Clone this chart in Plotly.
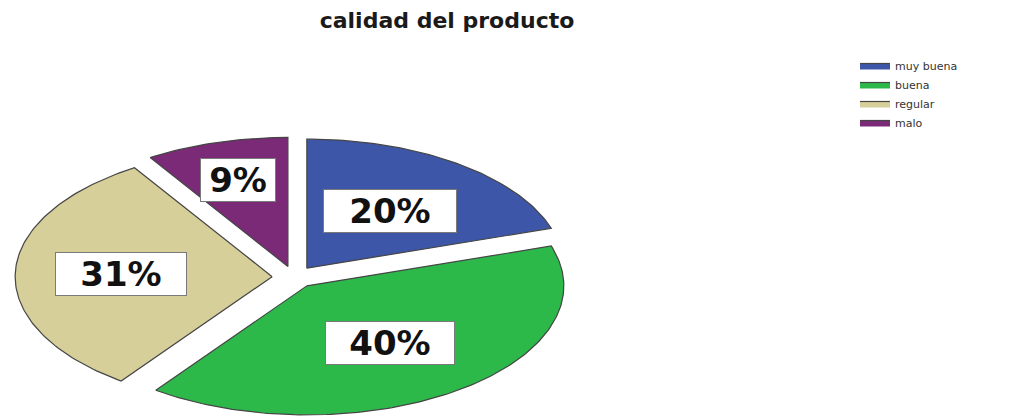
import numpy as np
import plotly.graph_objects as go

# Data
categories = ["muy buena", "buena", "regular", "malo"]
percentages = [20, 40, 31, 9]
chart_title = "calidad del producto"

# Styling
colors = ["#3d56a8", "#2db84a", "#d6cf9a", "#7b2a78"]
explode = 0.085          # radial offset of every slice (in radius units)
label_radius = [0.55, 0.55, 0.59, 0.70]
box_widths = [128, 124, 126, 70]

fig = go.Figure()

total = float(sum(percentages))
start = 0.0
label_specs = []
for cat, val, col in zip(categories, percentages, colors):
    frac = val / total
    t0 = 2 * np.pi * start
    t1 = 2 * np.pi * (start + frac)
    tm = 0.5 * (t0 + t1)
    # clockwise from 12 o'clock
    ox, oy = explode * np.sin(tm), explode * np.cos(tm)
    t = np.linspace(t0, t1, max(int(frac * 360), 8))
    xs = np.concatenate([[ox], ox + np.sin(t), [ox]])
    ys = np.concatenate([[oy], oy + np.cos(t), [oy]])
    fig.add_trace(go.Scatter(
        x=xs, y=ys, mode="lines", fill="toself", fillcolor=col,
        line=dict(color="#454545", width=1.2), name=cat, hoverinfo="name",
    ))
    label_specs.append((ox, oy, tm, val))
    start += frac

for i, (ox, oy, tm, val) in enumerate(label_specs):
    r = label_radius[i]
    fig.add_annotation(
        x=ox + r * np.sin(tm), y=oy + r * np.cos(tm),
        xref="x", yref="y", text=f"{val}%", showarrow=False,
        font=dict(family="DejaVu Sans", size=34, color="#111111", weight="bold"),
        bgcolor="white", bordercolor="#7a7a7a", borderwidth=1, borderpad=2,
        width=box_widths[i], height=38,
    )

# Horizontal unit ~257 px, vertical unit ~129 px (stretched pie)
W, H = 1018, 418
cx, cy, rx, ry = 294, 277, 257, 129
fig.update_layout(
    width=W, height=H, autosize=False,
    margin=dict(l=0, r=0, t=0, b=0),
    paper_bgcolor="white", plot_bgcolor="white",
    title=dict(
        text=chart_title, x=447 / W, xanchor="center",
        y=1 - 20 / H, yanchor="middle",
        font=dict(family="DejaVu Sans", size=22, color="#1a1a1a", weight="bold"),
    ),
    xaxis=dict(range=[-cx / rx, (W - cx) / rx], visible=False, fixedrange=True),
    yaxis=dict(range=[-(H - cy) / ry, cy / ry], visible=False, fixedrange=True),
    showlegend=True,
    legend=dict(
        x=855 / W, y=1 - 51 / H, xanchor="left", yanchor="top",
        font=dict(family="DejaVu Sans", size=11, color="#333333"),
        bgcolor="rgba(0,0,0,0)", tracegroupgap=0,
    ),
)

fig.write_html("out.html")
